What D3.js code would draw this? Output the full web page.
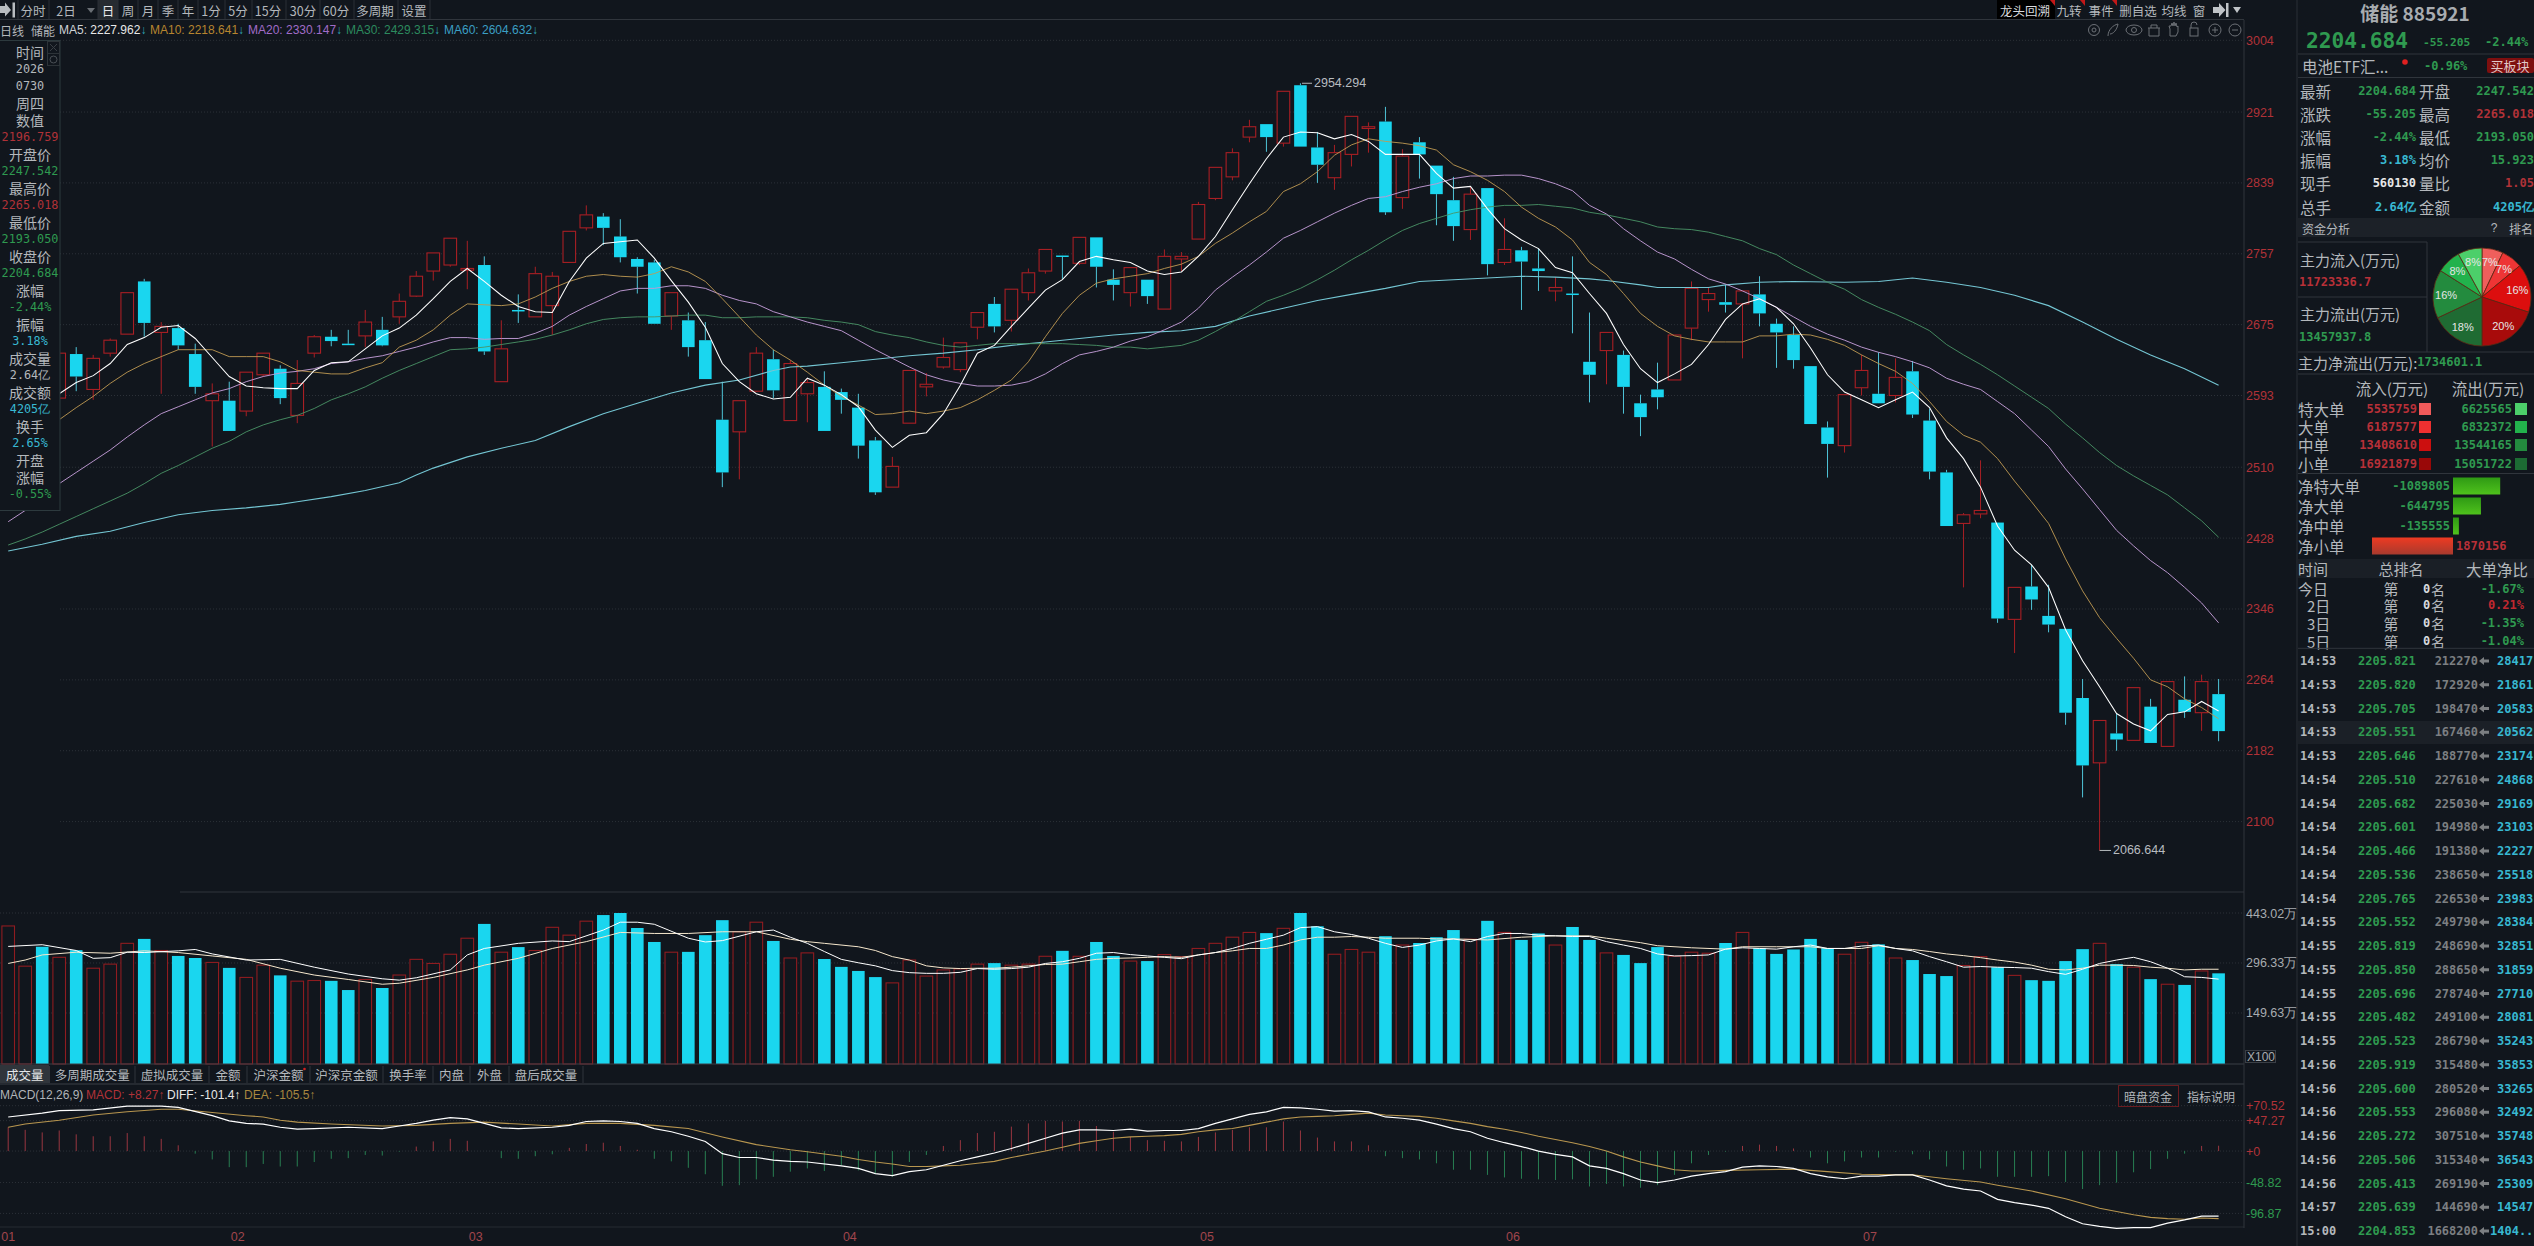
<!DOCTYPE html>
<html><head><meta charset="utf-8">
<script src="https://cdn.jsdelivr.net/npm/d3@7/dist/d3.min.js"></script>
<style>html,body{margin:0;padding:0;background:#11161d;overflow:hidden}svg{display:block}</style>
</head><body><svg id="c" width="2534" height="1246"></svg>
<script>
const opens=[2555,2595,2625,2590,2641,2600,2642,2664,2725,2666,2671,2641,2587,2587,2575,2617,2624,2570,2642,2661,2653,2662,2669,2684,2708,2737,2744,2738,2744,2609,2692,2684,2697,2747,2787,2800,2777,2751,2747,2685,2680,2657,2565,2551,2598,2635,2564,2595,2603,2597,2579,2541,2487,2561,2603,2626,2623,2672,2699,2680,2712,2737,2755,2746,2776,2727,2712,2727,2693,2751,2774,2821,2846,2892,2907,2885,2952,2880,2845,2872,2902,2910,2822,2886,2859,2819,2785,2833,2747,2761,2740,2714,2711,2632,2645,2640,2584,2600,2611,2671,2704,2701,2699,2710,2676,2663,2627,2556,2535,2602,2595,2593,2621,2564,2504,2445,2456,2446,2334,2372,2338,2323,2243,2168,2202,2194,2233,2187,2241,2226,2247.5];
const highs=[2600,2625,2630,2642,2649,2640,2659,2712,2728,2678,2676,2653,2607,2609,2620,2642,2628,2634,2663,2669,2669,2692,2684,2711,2737,2758,2775,2772,2754,2680,2710,2742,2736,2783,2813,2804,2797,2753,2750,2712,2689,2678,2609,2587,2649,2646,2634,2613,2621,2601,2595,2545,2522,2622,2619,2660,2654,2689,2707,2716,2740,2762,2755,2776,2776,2739,2741,2727,2762,2759,2817,2857,2879,2912,2907,2945,2954.3,2898,2883,2916,2909,2927,2878,2892,2859,2846,2834,2833,2798,2765,2763,2730,2754,2689,2666,2645,2594,2631,2663,2725,2718,2721,2714,2731,2682,2673,2627,2563,2594,2640,2643,2636,2633,2578,2507,2457,2518,2446,2371,2397,2374,2323,2265,2217,2225,2255,2242,2262,2268,2270,2265];
const lows=[2540,2585,2590,2590,2598,2588,2638,2664,2661,2595,2646,2595,2534,2552,2569,2615,2583,2561,2637,2650,2653,2649,2650,2676,2707,2726,2742,2716,2640,2609,2677,2684,2663,2747,2784,2767,2747,2711,2676,2669,2638,2612,2487,2496,2597,2590,2564,2562,2552,2572,2520,2478,2487,2561,2592,2624,2620,2658,2666,2667,2703,2734,2728,2744,2718,2703,2696,2699,2693,2737,2774,2819,2842,2886,2875,2881,2881,2839,2831,2858,2874,2802,2809,2844,2790,2772,2773,2732,2744,2692,2714,2702,2665,2585,2606,2572,2546,2577,2611,2657,2690,2689,2636,2673,2625,2624,2560,2498,2527,2593,2584,2585,2567,2496,2442,2371,2451,2330,2295,2345,2319,2212,2128,2066.6,2182,2194,2191,2187,2220,2205,2193];
const closes=[2590,2615,2600,2642,2615,2636,2657,2712,2677,2673,2651,2603,2595,2552,2620,2642,2590,2607,2661,2656,2652.5,2678,2651,2702,2731,2758,2775,2740,2644,2647,2691,2734,2731,2783,2802,2787,2753,2742,2676,2712,2649,2612,2504,2587,2642,2599,2630,2608,2552,2588,2535,2481,2511,2622,2606,2637,2654,2689,2673,2716,2735,2762,2754.5,2776,2742,2721,2741,2708,2754,2754,2814,2857,2874,2904,2892,2945,2881,2860,2874,2916,2904,2805,2870,2872,2826,2789,2826,2745,2762,2748,2737,2718,2710,2617,2666,2603,2568,2591,2663,2717,2711,2698,2714,2688,2666,2634,2560,2537,2594,2622,2584,2614,2571,2505,2442,2455,2460,2335,2371,2357,2328,2226,2165,2217,2195,2255,2191,2262,2227,2262,2204.7];
const ma5=[2570,2578,2586,2595,2608,2616,2630,2652,2660,2672,2674,2659,2637,2615,2604,2602,2601,2601,2622,2631,2632,2647,2662,2671,2686,2705,2725,2740,2725,2709,2696,2690,2689,2725,2752,2769,2771,2773,2752,2726,2701,2672,2630,2609,2595,2589,2591,2613,2605,2594,2580,2553,2533,2547,2550,2572,2605,2642,2651,2673,2694,2715,2727,2748,2754,2750,2747,2737,2733,2736,2754,2777,2808,2838,2867,2892,2898,2897,2890,2895,2887,2872,2872,2872,2850,2833,2835,2809,2786,2773,2763,2741,2735,2711,2688,2652,2624,2608,2618,2629,2652,2681,2699,2705,2695,2676,2648,2617,2597,2588,2579,2588,2597,2579,2544,2520,2487,2442,2414,2397,2371,2322,2286,2256,2225,2213,2205,2224,2227,2239,2228];
const ma10=[2540,2549,2557,2565,2579,2592,2607,2620,2630,2638,2646,2646,2646,2638,2638,2638,2632,2622,2620,2618,2618,2625,2631,2649,2657,2669,2686,2699,2698,2697,2699,2707,2717,2725,2731,2733,2731,2730,2734,2742,2736,2725,2705,2684,2663,2646,2634,2620,2605,2592,2582,2571,2572,2575,2572,2575,2579,2588,2599,2611,2632,2661,2688,2709,2723,2728,2731,2734,2740,2745,2754,2769,2781,2794,2806,2829,2838,2852,2871,2883,2890,2887,2885,2882,2877,2860,2852,2842,2829,2811,2798,2788,2773,2747,2733,2711,2688,2673,2662,2658,2655,2655,2655,2662,2662,2664,2663,2658,2651,2640,2630,2621,2607,2586,2563,2547,2539,2520,2494,2470,2445,2404,2367,2336,2312,2289,2264,2256,2242,2232,2219];
const ma20=[2447,2460,2476,2491,2504,2517,2530,2545,2559,2572,2580,2588,2596,2601,2609,2615,2619,2621,2624,2630,2632,2636,2639,2644,2649,2655,2660,2660,2658,2659,2659,2665,2673,2686,2696,2705,2714,2717,2717,2720,2720,2717,2709,2703,2699,2690,2684,2678,2673,2668,2657,2646,2636,2626,2617,2611,2607,2604,2604,2605,2609,2618,2630,2640,2644,2649,2656,2661,2669,2678,2694,2715,2730,2744,2759,2775,2784,2794,2804,2813,2821,2823,2829,2834,2838,2844,2847,2847,2848,2848,2844,2838,2830,2813,2803,2786,2772,2759,2751,2739,2728,2722,2714,2705,2695,2684,2673,2664,2657,2649,2643,2638,2632,2625,2613,2606,2600,2586,2572,2553,2534,2508,2485,2461,2437,2419,2402,2388,2371,2353,2330];
const ma30=[2420,2427,2435,2444,2453,2462,2471,2480,2491,2503,2512,2522,2532,2540,2551,2559,2565,2570,2578,2588,2595,2603,2613,2622,2630,2638,2646,2647,2649,2652,2655,2658,2663,2669,2676,2681,2683,2684,2684,2685,2686,2686,2683,2683,2684,2684,2684,2683,2680,2678,2675,2667,2663,2660,2655,2651,2649,2651,2653,2653,2653,2653,2653,2652,2651,2649,2649,2647,2649,2651,2657,2667,2678,2690,2702,2709,2717,2727,2738,2750,2761,2773,2784,2792,2798,2804,2808,2811,2813,2813,2814,2812,2810,2805,2802,2798,2794,2788,2786,2785,2782,2777,2772,2763,2756,2744,2734,2724,2716,2704,2695,2687,2678,2668,2652,2640,2629,2617,2604,2591,2578,2560,2544,2527,2512,2500,2489,2478,2463,2448,2429];
const ma60=[[0,2413],[2,2421],[4,2430],[6,2436],[8,2446],[10,2455],[12,2460],[14,2463],[16,2467],[17,2470],[19,2476],[21,2483],[23,2492],[24,2501],[25,2509],[27,2522],[29,2532],[31,2541],[33,2557],[35,2572],[37,2584],[39,2596],[41,2605],[43,2611],[45,2622],[46,2626],[47,2627],[49,2631],[51,2635],[53,2639],[55,2642],[57,2646],[59,2651],[61,2655],[63,2659],[65,2663],[67,2666],[69,2668],[71,2673],[73,2685],[75,2694],[77,2703],[79,2710],[81,2717],[83,2725],[85,2727],[87,2729],[89,2731],[91,2730],[93,2728],[94,2726],[96,2721],[97,2718],[100,2718],[101,2721],[103,2724],[105,2725],[108,2724],[110,2725],[112,2729],[114,2724],[116,2718],[118,2709],[120,2697],[122,2678],[124,2658],[126,2640],[128,2624],[130,2605]];
const vols=[405,287,344,313,334,281,293,354,367,333,317,311,298,282,254,290,260,243,245,244,217,248,223,261,307,295,322,369,411,328,343,333,401,378,419,437,443,399,358,328,329,378,422,388,416,361,311,326,308,285,273,255,238,305,258,276,279,293,296,290,293,316,332,316,358,317,302,302,321,315,339,354,372,386,384,398,443,404,322,336,328,375,349,355,372,393,366,420,386,364,383,349,402,364,326,320,296,343,316,328,325,355,386,340,323,336,367,340,322,357,351,311,305,264,258,289,315,284,260,246,244,302,337,354,293,284,249,234,232,273,266];
const volMaA=[[0,345],[2,350],[4,333],[5,310],[6,312],[7,328],[8,327],[10,332],[11,336],[12,323],[14,305],[16,307],[18,284],[20,264],[22,250],[23,246],[24,253],[26,276],[27,320],[28,339],[30,354],[32,361],[33,359],[35,393],[36,416],[37,416],[38,410],[40,369],[41,358],[42,362],[44,388],[45,393],[46,372],[47,354],[48,330],[49,307],[50,297],[51,288],[52,274],[53,268],[54,266],[55,266],[56,269],[57,280],[58,278],[59,280],[60,284],[61,295],[62,300],[63,310],[64,325],[65,327],[66,321],[67,317],[68,313],[69,309],[70,320],[71,327],[72,339],[73,354],[74,366],[75,378],[76,400],[77,403],[78,388],[79,380],[80,369],[81,354],[82,342],[83,349],[84,361],[85,367],[86,359],[87,374],[88,383],[89,383],[90,378],[91,376],[92,374],[93,374],[94,359],[95,349],[96,339],[97,323],[98,317],[99,318],[100,320],[101,337],[102,341],[103,339],[104,337],[105,344],[106,349],[107,339],[108,339],[109,346],[110,349],[111,339],[112,332],[113,315],[114,300],[115,284],[116,286],[117,284],[118,283],[119,281],[120,271],[121,263],[122,278],[123,295],[124,305],[125,313],[126,300],[127,281],[128,256],[129,254],[130,249]];
const volMaB=[[0,295],[1,305],[2,320],[4,328],[6,325],[8,332],[10,327],[12,317],[14,307],[16,281],[18,261],[20,248],[22,234],[23,237],[25,254],[27,276],[28,290],[30,310],[32,339],[34,359],[36,386],[38,383],[40,383],[42,388],[44,388],[46,366],[47,359],[48,354],[50,344],[51,333],[52,315],[53,305],[54,288],[55,282],[56,280],[57,281],[58,281],[59,284],[60,288],[61,292],[62,293],[63,300],[64,307],[65,310],[66,311],[67,313],[68,315],[69,313],[70,320],[71,327],[72,332],[73,339],[74,339],[75,349],[76,364],[77,372],[78,372],[79,374],[80,372],[81,369],[83,369],[84,367],[85,367],[87,364],[89,372],[91,376],[93,376],[94,369],[96,356],[97,347],[99,341],[101,337],[102,344],[104,344],[106,344],[107,339],[109,339],[110,347],[111,339],[112,336],[113,330],[114,323],[115,318],[116,312],[117,305],[118,299],[119,290],[120,278],[121,276],[122,281],[123,290],[124,290],[125,289],[126,284],[127,281],[128,276],[129,278],[130,278]];
const macdHist=[37,33,29,32,26,23,23,28,23,19,9,-4,-13,-25,-25,-20,-24,-24,-17,-12,-11,-6,-7,-1,7,15,19,16,0,-11,-12,-8,-5,5,11,13,8,2,-12,-16,-26,-36,-54,-53,-44,-40,-32,-27,-31,-22,-30,-35,-40,-17,-6,8,17,28,30,38,43,47,46,47,39,30,22,17,16,15,22,29,33,37,37,46,32,21,15,15,9,-8,-11,-13,-19,-29,-29,-37,-41,-43,-44,-45,-44,-55,-51,-55,-57,-53,-37,-19,-6,-1,8,10,8,4,-10,-19,-16,-10,-10,-1,-5,-13,-24,-29,-27,-40,-40,-40,-39,-48,-59,-53,-49,-33,-28,-12,-4,8,8.3];
const diffPts=[[0,53],[2,59],[3,63],[5,64],[7,70],[9,70],[10,68],[12,55],[13,47],[14,43],[15,42],[16,37],[17,34],[18,35],[20,37],[22,35],[23,39],[24,43],[25,48],[26,52],[27,50],[28,43],[29,36],[30,35],[32,37],[33,40],[34,46],[35,47],[36,46],[37,43],[38,35],[39,30],[40,23],[41,15],[42,-4],[43,-10],[44,-10],[45,-14],[46,-16],[47,-17],[49,-23],[50,-27],[51,-35],[52,-38],[53,-32],[54,-29],[55,-22],[56,-15],[57,-9],[58,-3],[59,4],[60,12],[61,20],[62,28],[63,33],[64,33],[65,32],[66,34],[67,31],[68,32],[69,32],[70,35],[71,43],[72,50],[73,57],[74,61],[75,68],[76,67],[77,65],[78,62],[79,63],[80,61],[81,53],[82,51],[83,48],[84,42],[85,35],[86,30],[87,20],[88,13],[89,7],[90,0],[91,-5],[92,-9],[93,-23],[94,-27],[95,-35],[96,-45],[97,-49],[98,-45],[99,-39],[100,-35],[101,-32],[102,-25],[103,-23],[104,-24],[105,-27],[106,-35],[107,-40],[108,-43],[109,-39],[110,-39],[111,-37],[112,-37],[113,-45],[114,-54],[115,-59],[116,-62],[117,-75],[118,-80],[119,-84],[120,-89],[121,-102],[122,-113],[123,-117],[124,-120],[125,-119],[126,-119],[127,-112],[128,-107],[129,-101],[130,-101]];
const deaPts=[[0,37],[1,42],[3,48],[5,56],[7,61],[9,65],[10,65],[12,60],[14,55],[15,53],[16,48],[17,45],[19,42],[22,39],[24,40],[26,43],[28,45],[30,42],[32,39],[34,43],[36,43],[38,40],[40,35],[42,22],[44,10],[46,2],[47,-1],[49,-8],[50,-13],[51,-17],[52,-20],[53,-24],[54,-24],[55,-23],[56,-22],[57,-19],[58,-16],[59,-10],[60,-5],[61,0],[62,6],[63,12],[64,16],[65,20],[66,22],[67,23],[68,24],[69,26],[70,30],[71,33],[72,35],[73,40],[74,45],[75,50],[76,53],[77,54],[78,55],[79,57],[80,59],[81,56],[82,55],[83,54],[84,51],[85,47],[86,43],[87,38],[88,34],[89,29],[90,23],[91,18],[92,13],[93,7],[94,0],[95,-9],[96,-17],[97,-23],[98,-29],[99,-31],[100,-31],[101,-30],[103,-29],[105,-28],[107,-32],[109,-36],[111,-37],[112,-37],[113,-40],[114,-43],[116,-48],[117,-53],[119,-62],[121,-74],[123,-89],[125,-99],[126,-103],[127,-105],[128,-106],[129,-104],[130,-105]];
const priceTicks=[3004,2921,2839,2757,2675,2593,2510,2428,2346,2264,2182,2100];
const volTicks=[443.02,296.33,149.63];
const macdTicks=[70.52,47.27,0,-48.82,-96.87];
const monthLabels=['01','02','03','04','05','06','07'];
const monthIdx=[-0.5,13,27,49,70,88,109];
const toolLabels=['分时','2日','日','周','月','季','年','1分','5分','15分','30分','60分','多周期','设置'];
const toolCenters=[33,66,108,128,148,168,188,211,238,268,303,336,375,414];
const toolSeps=[18,49,98,118,138,158,178,198,225,252,286,320,354,398,430];
const rightTools=['龙头回溯','九转','事件','删自选','均线','窗'];
const rightToolCenters=[2025,2069,2101,2138,2174,2199];
const tabLabels=['成交量','多周期成交量','虚拟成交量','金额','沪深金额','沪深京金额','换手率','内盘','外盘','盘后成交量'];
const tabSeps=[49.5,135,209,247,310,383,433,470,509,583];
const infoRows=[['时间','t'],['2026','t'],['0730','t'],['周四','t'],['数值','t'],['2196.759','r'],['开盘价','t'],['2247.542','g'],['最高价','t'],['2265.018','r'],['最低价','t'],['2193.050','g'],['收盘价','t'],['2204.684','g'],['涨幅','t'],['-2.44%','g'],['振幅','t'],['3.18%','c'],['成交量','t'],['2.64亿','t'],['成交额','t'],['4205亿','c'],['换手','t'],['2.65%','c'],['开盘','t'],['涨幅','t'],['-0.55%','g']];
const quoteL=[['最新','2204.684','g'],['涨跌','-55.205','g'],['涨幅','-2.44%','g'],['振幅','3.18%','c'],['现手','560130','w'],['总手','2.64亿','c']];
const quoteR=[['开盘','2247.542','g'],['最高','2265.018','r'],['最低','2193.050','g'],['均价','15.923','g'],['量比','1.05','r'],['金额','4205亿','c']];
const pieVals=[7,7,16,20,18,16,8,8];
const pieColors=['#ef5f5c','#ee3535','#dc0e0e','#a80b0b','#1f6b33','#238b3e','#22b24c','#4ccf6a'];
const flowNames=['特大单','大单','中单','小单'];
const flowIn=[5535759,6187577,13408610,16921879];
const flowOut=[6625565,6832372,13544165,15051722];
const netNames=['净特大单','净大单','净中单','净小单'];
const netVals=[-1089805,-644795,-135555,1870156];
const rankDays=['今日','2日','3日','5日'];
const rankVals=['-1.67%','0.21%','-1.35%','-1.04%'];
const tickTimes=['14:53','14:53','14:53','14:53','14:53','14:54','14:54','14:54','14:54','14:54','14:54','14:55','14:55','14:55','14:55','14:55','14:55','14:56','14:56','14:56','14:56','14:56','14:56','14:57','15:00'];
const tickPrices=['2205.821','2205.820','2205.705','2205.551','2205.646','2205.510','2205.682','2205.601','2205.466','2205.536','2205.765','2205.552','2205.819','2205.850','2205.696','2205.482','2205.523','2205.919','2205.600','2205.553','2205.272','2205.506','2205.413','2205.639','2204.853'];
const tickVols=['212270','172920','198470','167460','188770','227610','225030','194980','191380','238650','226530','249790','248690','288650','278740','249100','286790','315480','280520','296080','307510','315340','269190','144690','1668200'];
const tickAmts=['28417','21861','20583','20562','23174','24868','29169','23103','22227','25518','23983','28384','32851','31859','27710','28081','35243','35853','33265','32492','35748','36543','25309','14547','1404..'];

const BG='#11161d',TXT='#b4b8bc',RED='#b03238',GRN='#2f9a50',CYN='#38b9d2',UP='#a91f24',DN='#1ad6ef',GRID='#2c3138',LINE='#30353c';
const CJK="'Noto Sans CJK SC','Liberation Sans',sans-serif",SANS="'Liberation Sans',sans-serif",MONO="'DejaVu Sans Mono',monospace";
const cmap={t:TXT,r:RED,g:GRN,c:CYN,w:'#e8e8e8'};
const svg=d3.select('#c');
svg.append('rect').attr('width',2534).attr('height',1246).attr('fill',BG);
const defs=svg.append('defs');
const grad=(id,a,b)=>{const g=defs.append('linearGradient').attr('id',id).attr('x1',0).attr('x2',0).attr('y1',0).attr('y2',1);g.append('stop').attr('offset',0).attr('stop-color',a);g.append('stop').attr('offset',1).attr('stop-color',b);};
grad('gGreen','#2f9a14','#4fc21c');grad('gRed','#ee3a22','#a83a2e');
function T(g,x,y,s,o={}){return g.append('text').attr('x',x).attr('y',y).attr('dominant-baseline','central').attr('font-family',o.f||CJK).attr('font-size',o.s||14).attr('font-weight',o.b?'bold':'normal').attr('fill',o.c||TXT).attr('text-anchor',o.a||'start').text(s);}
function H(g,x1,x2,y,c=LINE){g.append('line').attr('x1',x1).attr('x2',x2).attr('y1',y).attr('y2',y).attr('stroke',c).attr('stroke-width',1);}
function V(g,x,y1,y2,c=LINE){g.append('line').attr('x1',x).attr('x2',x).attr('y1',y1).attr('y2',y2).attr('stroke',c).attr('stroke-width',1);}

const x=d3.scaleLinear().domain([0,130]).range([8.2,2218.6]);
const yP=d3.scaleLinear().domain([2100,3004]).range([821.6,40.3]);
const yV=d3.scaleLinear().domain([0,443.02]).range([1064,913]);
const yM=d3.scaleLinear().domain([-96.87,70.52]).range([1213.4,1105.7]);
const idx=d3.range(opens.length);

// grids
const grid=svg.append('g').attr('stroke',GRID).attr('stroke-dasharray','1 2');
priceTicks.forEach(t=>grid.append('line').attr('x1',60).attr('x2',2244).attr('y1',yP(t)).attr('y2',yP(t)));
volTicks.forEach(t=>grid.append('line').attr('x1',0).attr('x2',2244).attr('y1',yV(t)).attr('y2',yV(t)));
macdTicks.forEach(t=>grid.append('line').attr('x1',0).attr('x2',2244).attr('y1',yM(t)).attr('y2',yM(t)));

// candles
const BW=12.6;
const cg=svg.append('g');
cg.selectAll('line.w1').data(idx).join('line').attr('x1',i=>x(i)).attr('x2',i=>x(i))
 .attr('y1',i=>yP(highs[i])).attr('y2',i=>yP(Math.max(opens[i],closes[i])))
 .attr('stroke',i=>closes[i]>=opens[i]?UP:'#4fc4d8').attr('stroke-width',1);
cg.selectAll('line.w2').data(idx).join('line').attr('x1',i=>x(i)).attr('x2',i=>x(i))
 .attr('y1',i=>yP(Math.min(opens[i],closes[i]))).attr('y2',i=>yP(lows[i]))
 .attr('stroke',i=>closes[i]>=opens[i]?UP:'#4fc4d8').attr('stroke-width',1);
cg.selectAll('rect').data(idx).join('rect').attr('x',i=>x(i)-BW/2).attr('width',BW)
 .attr('y',i=>yP(Math.max(opens[i],closes[i])))
 .attr('height',i=>Math.max(1.5,Math.abs(yP(opens[i])-yP(closes[i]))))
 .attr('fill',i=>closes[i]>=opens[i]?BG:DN).attr('stroke',i=>closes[i]>=opens[i]?UP:'none').attr('stroke-width',1.1);

// MA lines
const lineIdx=d3.line().x((d,i)=>x(i)).y(d=>yP(d));
const linePts=d3.line().x(d=>x(d[0])).y(d=>yP(d[1]));
svg.append('path').attr('d',linePts(ma60)).attr('fill','none').attr('stroke','#74c6d3').attr('stroke-width',1.1);
svg.append('path').attr('d',lineIdx(ma30)).attr('fill','none').attr('stroke','#4a9467').attr('stroke-width',.9);
svg.append('path').attr('d',lineIdx(ma20)).attr('fill','none').attr('stroke','#c09ad4').attr('stroke-width',.95);
svg.append('path').attr('d',lineIdx(ma10)).attr('fill','none').attr('stroke','#c09a52').attr('stroke-width',.9);
svg.append('path').attr('d',lineIdx(ma5)).attr('fill','none').attr('stroke','#ffffff').attr('stroke-width',1.05);

// price extremes
const hiI=d3.maxIndex(highs),loI=d3.minIndex(lows);
[[hiI,highs[hiI],'2954.294',1302,1314],[loI,lows[loI],'2066.644',x(loI),2113]].forEach(d=>{
  H(svg,d[3],d[4]-2,yP(d[1]),'#b4b8bc');
  T(svg,d[4],yP(d[1]),d[2],{f:SANS,s:12.5,c:'#b8bcc0'});
});

// price axis
const axP=svg.append('g').attr('transform','translate(2246,0)').call(d3.axisRight(yP).tickValues(priceTicks).tickSize(0).tickPadding(0).tickFormat(d3.format('d')));
axP.select('.domain').remove();
axP.selectAll('text').attr('font-family',SANS).attr('font-size',12.5).attr('fill',RED);

// volume
const vg=svg.append('g');
vg.selectAll('rect').data(idx).join('rect').attr('x',i=>x(i)-BW/2).attr('width',BW)
 .attr('y',i=>yV(vols[i])).attr('height',i=>yV(0)-yV(vols[i]))
 .attr('fill',i=>closes[i]>=opens[i]?BG:DN).attr('stroke',i=>closes[i]>=opens[i]?'#8f1c20':'none').attr('stroke-width',1.1);
const lineV=d3.line().x(d=>x(d[0])).y(d=>yV(d[1]));
svg.append('path').attr('d',lineV(volMaB)).attr('fill','none').attr('stroke','#f6e7cc').attr('stroke-width',1);
svg.append('path').attr('d',lineV(volMaA)).attr('fill','none').attr('stroke','#ffffff').attr('stroke-width',1);
const axV=svg.append('g').attr('transform','translate(2246,0)').call(d3.axisRight(yV).tickValues(volTicks).tickSize(0).tickPadding(0).tickFormat(d=>d.toFixed(2)+'万'));
axV.select('.domain').remove();
axV.selectAll('text').attr('font-family',SANS).attr('font-size',12.5).attr('fill','#a8acb0');
svg.append('rect').attr('x',2245.5).attr('y',1050.5).attr('width',30).attr('height',12).attr('fill','none').attr('stroke','#3a3f46');
T(svg,2247,1057,'X100',{f:SANS,s:12,c:'#a8acb0'});

// separators
H(svg,0,2244,19.5);H(svg,180,2244,892,LINE);H(svg,0,2244,1064,'#3a3f46');H(svg,0,2244,1084,'#3a3f46');H(svg,0,2244,1227,'#262b32');
V(svg,2244,20,1228);V(svg,2297,0,1246,'#2a2f36');

// tabs
svg.append('rect').attr('x',0).attr('y',1065).attr('width',49).attr('height',18).attr('fill','#30353b');
let prev=0;tabLabels.forEach((t,i)=>{T(svg,(prev+tabSeps[i])/2,1074.5,t,{a:'middle',s:12.5,c:i==0?'#e4e6e8':TXT});V(svg,tabSeps[i],1066,1083,'#30353c');prev=tabSeps[i];});
svg.append('circle').attr('cx',304.5).attr('cy',1069).attr('r',1.3).attr('fill','#d02020');

// MACD
const hg=svg.append('g');
hg.selectAll('line').data(idx).join('line').attr('x1',i=>x(i)).attr('x2',i=>x(i)).attr('y1',yM(0)).attr('y2',i=>yM(macdHist[i]))
 .attr('stroke',i=>macdHist[i]>=0?'#a83a44':'#2a8a58').attr('stroke-width',.9);
const lineM=d3.line().x(d=>x(d[0])).y(d=>yM(d[1]));
svg.append('path').attr('d',lineM(deaPts)).attr('fill','none').attr('stroke','#b8964f').attr('stroke-width',1.1);
svg.append('path').attr('d',lineM(diffPts)).attr('fill','none').attr('stroke','#ffffff').attr('stroke-width',1.2);
const axM=svg.append('g').attr('transform','translate(2246,0)').call(d3.axisRight(yM).tickValues(macdTicks).tickSize(0).tickPadding(0).tickFormat(d=>d>=0?'+'+d:''+d));
axM.select('.domain').remove();
axM.selectAll('text').attr('font-family',SANS).attr('font-size',12.5).attr('fill',d=>d>=0?RED:GRN);
T(svg,0,1095,'MACD(12,26,9)',{f:SANS,s:12,c:'#b0b4b8'});
T(svg,86,1095,'MACD: +8.27↑',{f:SANS,s:12,c:RED});
T(svg,167,1095,'DIFF: -101.4↑',{f:SANS,s:12,c:'#e8e8e8'});
T(svg,244,1095,'DEA: -105.5↑',{f:SANS,s:12,c:'#a8873f'});
svg.append('rect').attr('x',2118.5).attr('y',1085.5).attr('width',60).attr('height',21).attr('fill','none').attr('stroke','#6a1c20');
T(svg,2148,1096,'暗盘资金',{a:'middle',s:12});
T(svg,2211,1096,'指标说明',{a:'middle',s:12});

// months
const axX=svg.append('g').attr('transform','translate(8,1232)').call(d3.axisBottom(x).tickValues(monthIdx).tickSize(0).tickPadding(0).tickFormat((d,i)=>monthLabels[i]));
axX.select('.domain').remove();
axX.selectAll('text').attr('font-family',SANS).attr('font-size',12.5).attr('fill','#a0454c');

// top toolbar
svg.append('rect').attr('x',98).attr('y',0).attr('width',20).attr('height',19).attr('fill','#262b31');
toolLabels.forEach((t,i)=>T(svg,toolCenters[i],10,t,{a:'middle',s:12.5,c:i==2?'#e6e8ea':TXT}));
toolSeps.forEach(v=>V(svg,v,0,19,'#2a2f36'));
svg.append('path').attr('d','M0 6h5V2.5L11 10 5 16.5V13H0ZM12.5 2.5h2.5v15h-2.5Z').attr('fill','#b8bcc0');
svg.append('path').attr('d','M87 8h8l-4 5Z').attr('fill','#6a6f75');
svg.append('rect').attr('x',1997).attr('y',0).attr('width',58).attr('height',19).attr('fill','#000');
rightTools.forEach((t,i)=>T(svg,rightToolCenters[i],10,t,{a:'middle',s:12.5,c:i==0?'#d8dade':TXT}));
[2055,2085,2117].forEach(v=>svg.append('path').attr('d',`M${v-5} 0h5v6Z`).attr('fill','#c21818'));
svg.append('path').attr('d','M2213 7h6V3l6.5 7-6.5 7v-4h-6ZM2226 3h2.5v14H2226Z').attr('fill','#c0c4c8');
svg.append('path').attr('d','M2233 7h8l-4 6Z').attr('fill','#c0c4c8');
// icon row
const ic=svg.append('g').attr('fill','none').attr('stroke','#6c7076').attr('stroke-width',1);
ic.append('circle').attr('cx',2094).attr('cy',30).attr('r',5.5);ic.append('circle').attr('cx',2094).attr('cy',30).attr('r',2);
ic.append('path').attr('d','M2108 36c0-6 5-11 10-12-1 6-5 10-8 10');
ic.append('ellipse').attr('cx',2134).attr('cy',30).attr('rx',8).attr('ry',5);ic.append('circle').attr('cx',2134).attr('cy',30).attr('r',2.5);
ic.append('path').attr('d','M2148 28h12M2149 28v8h10v-8M2151 28v-3h6v3');
ic.append('path').attr('d','M2170 36v-7l-1-3 2 0 1-3 1 3 1-4 1 4 1-3 1 4 1-1v6l-2 4Z');
ic.append('rect').attr('x',2190).attr('y',28).attr('width',8).attr('height',8);ic.append('path').attr('d','M2191 28v-3a3 3 0 0 1 6 0');
ic.append('circle').attr('cx',2215).attr('cy',30).attr('r',6);ic.append('path').attr('d','M2212 30h6M2215 27v6');
ic.append('circle').attr('cx',2235).attr('cy',30).attr('r',6);ic.append('path').attr('d','M2232 30h6');

// MA legend
T(svg,0,30,'日线',{s:12});T(svg,31,30,'储能',{s:12});
[['MA5: ','2227.962',59,'#cfd2d6','#e8e8e8'],['MA10: ','2218.641',150,'#b7852f','#b7852f'],['MA20: ','2330.147',248,'#a06cc8','#a06cc8'],['MA30: ','2429.315',346,'#2c8a5e','#2c8a5e'],['MA60: ','2604.632',444,'#3b9fc4','#3b9fc4']].forEach(d=>{
  const t=T(svg,d[2],30,d[0],{f:SANS,s:12,c:d[3]});t.append('tspan').attr('fill',d[4]).text(d[1]);t.append('tspan').attr('fill','#2fa6b8').text('↓');
});

// left info panel
svg.append('rect').attr('x',-1).attr('y',40.5).attr('width',61).attr('height',470).attr('fill',BG).attr('stroke','#2d3a3e');
infoRows.forEach((d,i)=>{const num=/^[-0-9]/.test(d[0]);T(svg,30,52.3+17*i,d[0],{a:'middle',s:num?11.8:14,f:num?MONO:CJK,c:cmap[d[1]]});});
svg.append('rect').attr('x',47.5).attr('y',41.5).attr('width',12).attr('height',12).attr('fill','none').attr('stroke','#2d3338');
svg.append('rect').attr('x',47.5).attr('y',53.5).attr('width',12).attr('height',12).attr('fill','none').attr('stroke','#2d3338');
svg.append('path').attr('d','M50 44l7 7M57 44l-7 7').attr('stroke','#3a3f45');
svg.append('circle').attr('cx',53.5).attr('cy',59.5).attr('r',3.5).attr('fill','none').attr('stroke','#4a4f55');

// right panel
const p=svg.append('g');
p.append('rect').attr('x',2298).attr('y',0).attr('width',236).attr('height',1246).attr('fill',BG);
T(p,2415,12,'储能 885921',{a:'middle',s:19,b:1,f:"'Noto Sans CJK SC',serif",c:'#a8acb0'});
T(p,2306,40,'2204.684',{f:MONO,s:21.2,b:1,c:GRN});
T(p,2423,42,'-55.205',{f:MONO,s:11.2,b:1,c:GRN});
T(p,2485,42,'-2.44%',{f:MONO,s:12,b:1,c:GRN});
H(p,2298,2534,54);
T(p,2302,66,'电池ETF汇...',{s:15.5});
p.append('circle').attr('cx',2405).attr('cy',62).attr('r',2.8).attr('fill','#e02020');
T(p,2424,66,'-0.96%',{f:MONO,s:12,b:1,c:GRN});
p.append('rect').attr('x',2487).attr('y',58).attr('width',47).attr('height',15).attr('rx',2).attr('fill','#7e0f0f');
T(p,2510,65.5,'买板块',{a:'middle',s:13,c:'#e0c8c8'});
H(p,2298,2534,77.5);
const qy=[90.6,114,137,160,183,207];
quoteL.forEach((d,i)=>{T(p,2300,qy[i],d[0],{s:15.5});const z=d[1].endsWith('亿');T(p,2416,qy[i],d[1],{a:'end',f:MONO,s:12,b:1,c:cmap[d[2]]});});
quoteR.forEach((d,i)=>{T(p,2419,qy[i],d[0],{s:15.5});const z=d[1].endsWith('亿');T(p,2534,qy[i],d[1],{a:'end',f:MONO,s:12,b:1,c:cmap[d[2]]});});
p.append('rect').attr('x',2298).attr('y',218).attr('width',236).attr('height',19).attr('fill','#1c2128');
T(p,2302,228,'资金分析',{s:12});T(p,2494,228,'?',{a:'middle',f:SANS,s:12});T(p,2533,228,'排名',{a:'end',s:12});
H(p,2298,2427,242);H(p,2298,2534,352);H(p,2298,2427,297);V(p,2427,242,352);
T(p,2300,259,'主力流入(万元)',{s:15});T(p,2299,282,'11723336.7',{f:MONO,s:12,b:1,c:'#b83038'});
T(p,2300,313,'主力流出(万元)',{s:15});T(p,2299,337,'13457937.8',{f:MONO,s:12,b:1,c:GRN});
const arcG=d3.arc().innerRadius(0).outerRadius(49),arcL=d3.arc().innerRadius(0).outerRadius(72);
const pieD=d3.pie().sort(null)(pieVals);
const pg=p.append('g').attr('transform','translate(2482,297)');
pg.selectAll('path').data(pieD).join('path').attr('d',arcG).attr('fill',(d,i)=>pieColors[i]).attr('stroke','#5a2a14').attr('stroke-width',.8);
pg.selectAll('text').data(pieD).join('text').attr('transform',d=>`translate(${arcL.centroid(d)})`).attr('text-anchor','middle').attr('dominant-baseline','central').attr('font-family',SANS).attr('font-size',11).attr('fill','#e6e6e6').text(d=>d.value+'%');
T(p,2298,362.4,'主力净流出(万元):',{s:15}).append('tspan').attr('font-family',MONO).attr('font-size',12).attr('font-weight','bold').attr('fill',GRN).text('1734601.1');
H(p,2298,2534,374);
T(p,2392,388,'流入(万元)',{a:'middle',s:15.5});T(p,2488,388,'流出(万元)',{a:'middle',s:15.5});
const fy=[409,427,445,464],inC=['#f05a5a','#ee3030','#cc0f0f','#990808'],outC=['#4ccf6a','#22b24c','#238b3e','#1c6b33'];
flowNames.forEach((n,i)=>{
  T(p,2298,fy[i],n,{s:15.5});
  T(p,2417,fy[i],flowIn[i],{a:'end',f:MONO,s:12,b:1,c:'#b83038'});
  p.append('rect').attr('x',2419).attr('y',fy[i]-6).attr('width',12).attr('height',12).attr('fill',inC[i]);
  T(p,2512,fy[i],flowOut[i],{a:'end',f:MONO,s:12,b:1,c:GRN});
  p.append('rect').attr('x',2515).attr('y',fy[i]-6).attr('width',12).attr('height',12).attr('fill',outC[i]);
});
H(p,2298,2534,473.5);
const yNet=[486,506,526,546],bw=d3.scaleLinear().domain([0,1870156]).range([0,81]);
netNames.forEach((n,i)=>{
  T(p,2298,yNet[i],n,{s:15.5});
  const v=netVals[i],w=bw(Math.abs(v));
  p.append('rect').attr('x',v<0?2453:2453-w).attr('y',yNet[i]-8.5).attr('width',w).attr('height',17).attr('fill',v<0?'url(#gGreen)':'url(#gRed)');
  if(v<0)T(p,2450,yNet[i],v,{a:'end',f:MONO,s:12,b:1,c:GRN});else T(p,2456,yNet[i],v,{f:MONO,s:12,b:1,c:'#b83038'});
});
p.append('rect').attr('x',2298).attr('y',559).attr('width',236).attr('height',19).attr('fill','#1a1f26');
T(p,2298,568.6,'时间',{s:15});T(p,2401,568.6,'总排名',{a:'middle',s:15});T(p,2528,568.6,'大单净比',{a:'end',s:15.5});
const ry=[588.6,605,623,641];
rankDays.forEach((d,i)=>{
  T(p,i==0?2298:2307,ry[i],d,{s:15});
  T(p,2391,ry[i],'第',{a:'middle',s:15});
  T(p,2423,ry[i],'0',{f:MONO,s:12,b:1,c:'#d8dade'});T(p,2431,ry[i],'名',{s:14});
  T(p,2524,ry[i],rankVals[i],{a:'end',f:MONO,s:12,b:1,c:rankVals[i][0]=='-'?GRN:'#c02830'});
});
H(p,2298,2534,648.3);
p.append('rect').attr('x',2298).attr('y',721).attr('width',236).attr('height',23).attr('fill','#1b2027');
tickTimes.forEach((t,i)=>{
  const y=661+23.75*i;
  T(p,2300,y,t,{f:MONO,s:12,b:1,c:'#b4b8bc'});
  T(p,2358,y,tickPrices[i],{f:MONO,s:12,b:1,c:GRN});
  T(p,2478,y,tickVols[i],{a:'end',f:MONO,s:12,b:1,c:'#7c7f82'});
  p.append('path').attr('d',`M2479 ${y}l5-4v2.5h5v3h-5v2.5Z`).attr('fill','#7c7f82');
  T(p,i==24?2490:2497,y,tickAmts[i],{f:MONO,s:12,b:1,c:CYN});
});
</script></body></html>
